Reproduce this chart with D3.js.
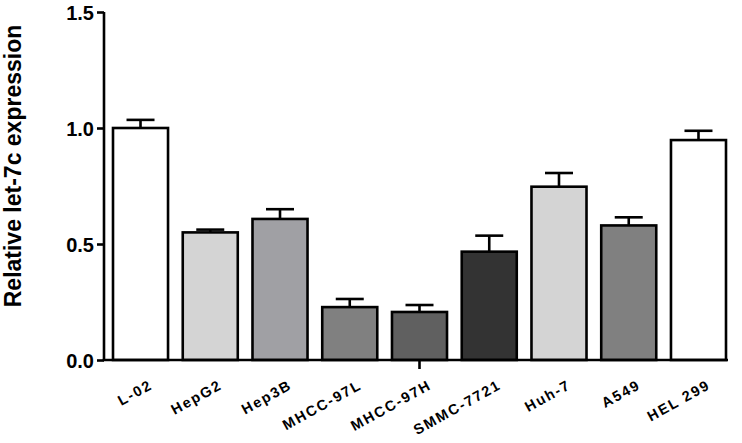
<!DOCTYPE html>
<html>
<head>
<meta charset="utf-8">
<script src="https://cdn.jsdelivr.net/npm/d3@7"></script>
<style>
  body { margin: 0; background: #fff; }
  text { font-family: Arial, "Liberation Sans", sans-serif; }
</style>
</head>
<body>
<div class="visualization"></div>
<script>
// data
const cellLines = ["L-02", "HepG2", "Hep3B", "MHCC-97L", "MHCC-97H", "SMMC-7721", "Huh-7", "A549", "HEL 299"];
const meanValues = [1.0, 0.55, 0.608, 0.228, 0.207, 0.467, 0.747, 0.58, 0.948];
const semValues = [0.035, 0.012, 0.042, 0.035, 0.03, 0.069, 0.059, 0.035, 0.04];
const barColors = ["#ffffff", "#d4d4d4", "#a0a0a4", "#808080", "#606060", "#333333", "#d4d4d4", "#808080", "#ffffff"];
const yTicks = [0, 0.5, 1.0, 1.5];

const width = 742;
const height = 443;
const axisleft = 104;
const axisright = 728;

var svg = d3.select(".visualization").
append("svg").
attr("width", width).
attr("height", height);

var x = d3.scaleBand().domain(cellLines).range([113, 726]).paddingInner(0.211).paddingOuter(0);
var y = d3.scaleLinear().domain([0, 1.5]).range([360, 12]);

// bars
svg.selectAll("rect.bar").
data(cellLines).
enter().
append("rect").
attr("class", "bar").
attr("x", d => x(d)).
attr("y", (d, i) => y(meanValues[i])).
attr("width", x.bandwidth()).
attr("height", (d, i) => y(0) - y(meanValues[i])).
attr("fill", (d, i) => barColors[i]).
attr("stroke", "#000").
attr("stroke-width", 2.6);

// error bars (upper only)
var capwidth = 28;
var err = svg.selectAll("g.err").data(cellLines).enter().append("g").attr("class", "err");
err.append("line").
attr("x1", d => x(d) + x.bandwidth() / 2).
attr("x2", d => x(d) + x.bandwidth() / 2).
attr("y1", (d, i) => y(meanValues[i])).
attr("y2", (d, i) => y(meanValues[i] + semValues[i])).
attr("stroke", "#000").attr("stroke-width", 2.6);
err.append("line").
attr("x1", d => x(d) + x.bandwidth() / 2 - capwidth / 2).
attr("x2", d => x(d) + x.bandwidth() / 2 + capwidth / 2).
attr("y1", (d, i) => y(meanValues[i] + semValues[i])).
attr("y2", (d, i) => y(meanValues[i] + semValues[i])).
attr("stroke", "#000").attr("stroke-width", 2.6);

// y axis
var yaxis = d3.axisLeft(y).tickValues(yTicks).tickFormat(d3.format(".1f")).tickSize(7).tickSizeOuter(0);
var yg = svg.append("g").attr("transform", "translate(" + axisleft + ",0)").call(yaxis);
yg.selectAll("path, line").attr("stroke", "#000").attr("stroke-width", 2.6);
yg.select(".domain").attr("d", "M0," + y(1.5) + "V" + y(0));
yg.selectAll("text").
attr("x", -10).
attr("dy", "0.36em").
attr("fill", "#000").
style("font-size", "20px").
style("font-weight", "bold");

// x axis
var xaxis = d3.axisBottom(x).tickValues(["MHCC-97H"]).tickFormat("").tickSize(9).tickSizeOuter(0);
var xg = svg.append("g").attr("transform", "translate(0," + y(0) + ")").call(xaxis);
xg.selectAll("path, line").attr("stroke", "#000").attr("stroke-width", 2.6);
xg.select(".domain").attr("d", "M" + (axisleft - 1.3) + ",0H" + axisright);

// x labels, rotated
svg.selectAll("text.xlab").
data(cellLines).
enter().
append("text").
attr("class", "xlab").
attr("text-anchor", "end").
attr("transform", d => "translate(" + (x(d) + x.bandwidth() / 2 + 13) + ",388) rotate(-29)").
style("font-size", "14.5px").
style("font-weight", "bold").
style("letter-spacing", "1.8px").
text(d => d);

// y title
svg.append("text").
attr("transform", "translate(21,166) rotate(-90)").
attr("text-anchor", "middle").
style("font-size", "23px").
style("font-weight", "bold").
text("Relative let-7c expression");
</script>
</body>
</html>
